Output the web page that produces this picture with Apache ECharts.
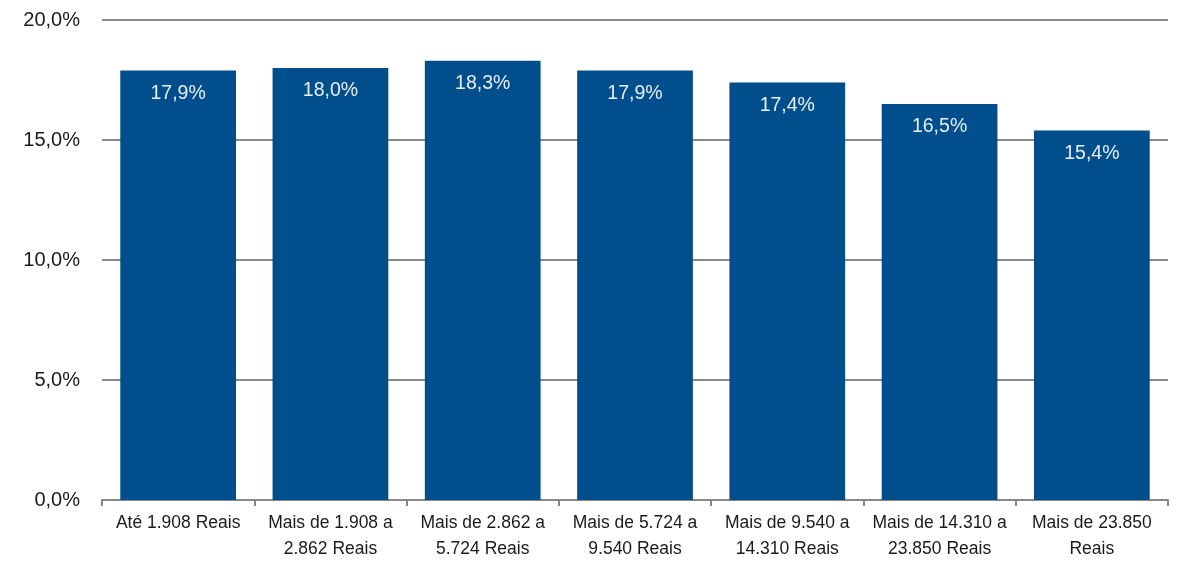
<!DOCTYPE html>
<html><head><meta charset="utf-8">
<script src="https://cdn.jsdelivr.net/npm/echarts@6/dist/echarts.min.js"></script>
<style>html,body{margin:0;padding:0;background:#fff}#c{width:1178px;height:562px}</style>
</head><body><div id="c"></div>
<script>
const categories = ["Até 1.908 Reais", "Mais de 1.908 a\n2.862 Reais", "Mais de 2.862 a\n5.724 Reais", "Mais de 5.724 a\n9.540 Reais", "Mais de 9.540 a\n14.310 Reais", "Mais de 14.310 a\n23.850 Reais", "Mais de 23.850\nReais"];
const values = [17.9, 18.0, 18.3, 17.9, 17.4, 16.5, 15.4];
const yTicks = { min: 0, max: 20, interval: 5 };

const fmt = v => v.toFixed(1).replace('.', ',') + '%';
const chart = echarts.init(document.getElementById('c'), null, { renderer: 'canvas' });
chart.setOption({
  animation: false,
  grid: { left: 102, right: 10, top: 20, bottom: 62, containLabel: false },
  xAxis: {
    type: 'category', data: categories,
    axisLine: { lineStyle: { color: '#888888', width: 2 } },
    axisTick: { show: true, length: 6, lineStyle: { color: '#888888', width: 2 } },
    axisLabel: { color: '#1a1a1a', fontFamily: 'Liberation Sans', fontSize: 17.5, lineHeight: 26, margin: 10, interval: 0 }
  },
  yAxis: {
    type: 'value', min: yTicks.min, max: yTicks.max, interval: yTicks.interval,
    axisLine: { show: false }, axisTick: { show: false },
    splitLine: { lineStyle: { color: '#888888', width: 2 } },
    axisLabel: { color: '#1a1a1a', fontFamily: 'Liberation Sans', fontSize: 20, margin: 22, formatter: v => fmt(v) }
  },
  series: [{
    type: 'bar', data: values, barCategoryGap: '24%',
    itemStyle: { color: '#004f8c' },
    label: { show: true, position: 'insideTop', distance: 13, color: '#e8eef6', fontFamily: 'Liberation Sans', fontSize: 19.5, formatter: p => fmt(p.value) }
  }]
});
</script></body></html>
